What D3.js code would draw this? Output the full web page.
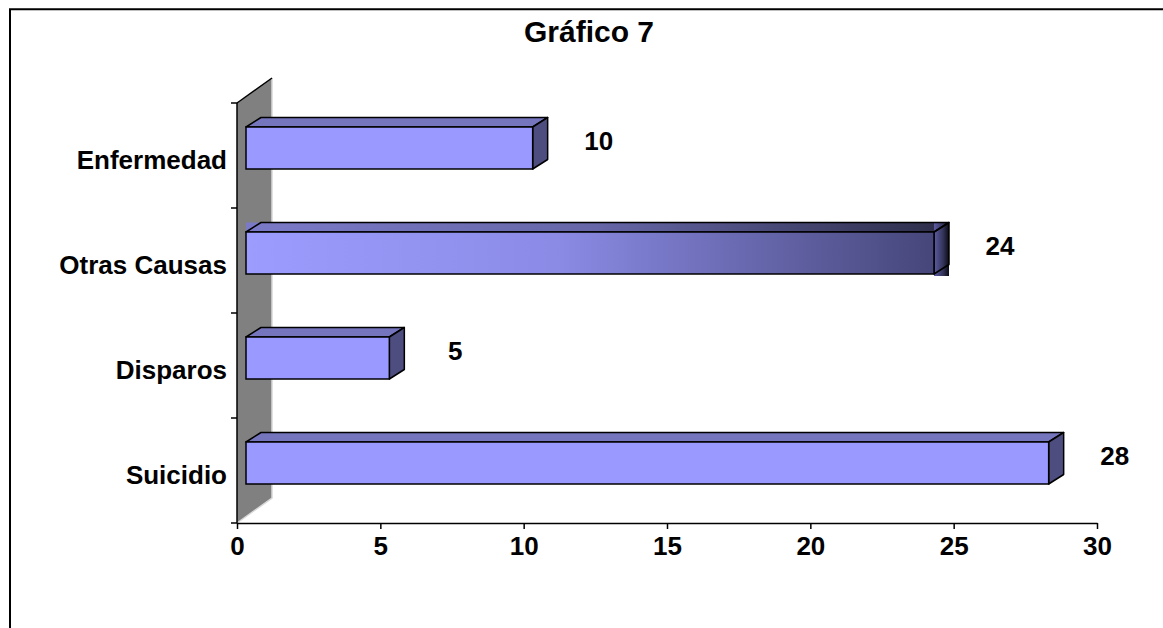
<!DOCTYPE html>
<html>
<head>
<meta charset="utf-8">
<script src="https://cdn.jsdelivr.net/npm/d3@7"></script>
<style>
  body { margin: 0; background: #fff; }
  text { font-family: Arial, "Liberation Sans", Helvetica, sans-serif; font-weight: bold; }
</style>
</head>
<body>
<div id="chart"></div>
<script>
const TITLE = "Gráfico 7";
const categories = ["Enfermedad", "Otras Causas", "Disparos", "Suicidio"];
const values = [10, 24, 5, 28];
const xTicks = [0, 5, 10, 15, 20, 25, 30];

const WALL_DX = 35, WALL_DY = -25; // depth of the back wall
const BAR_OFF_X = 9, BAR_OFF_Y = -7.5; // where the bar front sits in depth
const BAR_DX = 15, BAR_DY = -9.5; // bar depth
const LABEL_PAD = 75;

var width = 1163, height = 628;

var svg = d3.select("#chart").append("svg")
    .attr("width", width)
    .attr("height", height)
    .style("display", "block");

// frame (only top and left edges are in view)
svg.append("path")
    .attr("d", "M10," + height + "V9.3H" + width)
    .attr("fill", "none")
    .attr("stroke", "#000")
    .attr("stroke-width", 2);

svg.append("text")
    .attr("x", 589)
    .attr("y", 42)
    .attr("text-anchor", "middle")
    .style("font-size", "30px")
    .text(TITLE);

var x = d3.scaleLinear()
    .domain([0, 30])
    .range([237, 1097]);

var y = d3.scaleBand()
    .domain(categories)
    .range([103, 523]);

var x0 = x(0), yTop = y.range()[0], yBot = y.range()[1];

// back wall
svg.append("path")
    .attr("d", "M" + x0 + "," + yTop + "L" + (x0 + WALL_DX) + "," + (yTop + WALL_DY) +
        "L" + (x0 + WALL_DX) + "," + (yBot + WALL_DY) + "L" + x0 + "," + yBot + "Z")
    .attr("fill", "#808080");
svg.append("path")
    .attr("d", "M" + (x0 + WALL_DX) + "," + (yTop + WALL_DY) + "V" + (yBot + WALL_DY) + "L" + x0 + "," + yBot)
    .attr("fill", "none")
    .attr("stroke", "#d8d8d8")
    .attr("stroke-width", 1.5);
svg.append("path")
    .attr("d", "M" + x0 + "," + yTop + "L" + (x0 + WALL_DX) + "," + (yTop + WALL_DY))
    .attr("stroke", "#000")
    .attr("stroke-width", 1.5);

// vertical axis with ticks on the band edges
var yEdges = categories.map(function (c) { return y(c); }).concat([yBot]);
svg.append("line")
    .attr("x1", x0).attr("x2", x0)
    .attr("y1", yTop).attr("y2", yBot)
    .attr("stroke", "#000").attr("stroke-width", 1.5);
svg.selectAll(".ytick")
    .data(yEdges)
    .enter().append("line")
    .attr("class", "ytick")
    .attr("x1", x0 - 6).attr("x2", x0)
    .attr("y1", function (d) { return d; })
    .attr("y2", function (d) { return d; })
    .attr("stroke", "#000").attr("stroke-width", 1.5);

svg.selectAll(".cat")
    .data(categories)
    .enter().append("text")
    .attr("class", "cat")
    .attr("x", 227)
    .attr("y", function (d) { return y(d) + y.bandwidth() / 2 + 4; })
    .attr("dy", "0.36em")
    .attr("text-anchor", "end")
    .style("font-size", "26px")
    .text(function (d) { return d; });

// horizontal axis
var xAxis = svg.append("g")
    .attr("transform", "translate(0," + yBot + ")")
    .call(d3.axisBottom(x).tickValues(xTicks).tickSize(6).tickPadding(8).tickSizeOuter(0));
xAxis.select(".domain").attr("stroke", "#000").attr("stroke-width", 1.5);
xAxis.selectAll(".tick line").attr("stroke", "#000").attr("stroke-width", 1.5);
xAxis.selectAll(".tick text")
    .attr("fill", "#000")
    .style("font-size", "26px")
    .style("font-family", "Arial, 'Liberation Sans', sans-serif")
    .style("font-weight", "bold");

// gradients for the highlighted bar
var defs = svg.append("defs");
function grad(id, stops) {
    var g = defs.append("linearGradient").attr("id", id)
        .attr("x1", "0%").attr("x2", "100%").attr("y1", "0%").attr("y2", "0%");
    stops.forEach(function (s) {
        g.append("stop").attr("offset", s[0]).attr("stop-color", s[1]);
    });
}
grad("gFront", [["0%", "#9c9cff"], ["45%", "#8b8be6"], ["100%", "#46467a"]]);
grad("gTop", [["0%", "#7a7ac8"], ["50%", "#6666a8"], ["100%", "#2c2c48"]]);
grad("gEnd", [["0%", "#5c5ca4"], ["60%", "#34345a"], ["100%", "#0a0a14"]]);

var barH = y.bandwidth() * 0.4;

var bars = svg.selectAll(".bar")
    .data(categories.map(function (c, i) { return { cat: c, value: values[i] }; }))
    .enter().append("g")
    .attr("class", "bar");

bars.each(function (d) {
    var g = d3.select(this);
    var fx0 = x0 + BAR_OFF_X,
        fx1 = x(d.value) + BAR_OFF_X,
        fy0 = y(d.cat) + (y.bandwidth() - barH) / 2 + BAR_OFF_Y,
        fy1 = fy0 + barH;
    var shaded = d.cat === "Otras Causas";

    var top = "M" + fx0 + "," + fy0 + "L" + (fx0 + BAR_DX) + "," + (fy0 + BAR_DY) +
        "L" + (fx1 + BAR_DX) + "," + (fy0 + BAR_DY) + "L" + fx1 + "," + fy0 + "Z";
    var end = "M" + fx1 + "," + fy0 + "L" + (fx1 + BAR_DX) + "," + (fy0 + BAR_DY) +
        "L" + (fx1 + BAR_DX) + "," + (fy1 + BAR_DY) + "L" + fx1 + "," + fy1 + "Z";

    if (shaded) {
        // fills spill over the bounding boxes, like the original
        g.append("rect")
            .attr("x", fx0).attr("y", fy0 + BAR_DY)
            .attr("width", fx1 + BAR_DX - fx0).attr("height", -BAR_DY)
            .attr("fill", "url(#gTop)");
        g.append("rect")
            .attr("x", fx1).attr("y", fy0 + BAR_DY)
            .attr("width", BAR_DX).attr("height", barH - BAR_DY + 2)
            .attr("fill", "url(#gEnd)");
    }

    g.append("path").attr("d", top)
        .attr("fill", shaded ? "none" : "#7575bd")
        .attr("stroke", "#000").attr("stroke-width", 1.5).attr("stroke-linejoin", "round");
    g.append("path").attr("d", end)
        .attr("fill", shaded ? "none" : "#4d4d80")
        .attr("stroke", "#000").attr("stroke-width", 1.5).attr("stroke-linejoin", "round");
    g.append("rect")
        .attr("x", fx0).attr("y", fy0)
        .attr("width", fx1 - fx0).attr("height", barH)
        .attr("fill", shaded ? "url(#gFront)" : "#9999ff")
        .attr("stroke", "#000").attr("stroke-width", 1.5);

    g.append("text")
        .attr("x", x(d.value) + LABEL_PAD)
        .attr("y", y(d.cat) + y.bandwidth() / 2 - 15)
        .attr("dy", "0.36em")
        .attr("text-anchor", "middle")
        .style("font-size", "26px")
        .text(d.value);
});
</script>
</body>
</html>
